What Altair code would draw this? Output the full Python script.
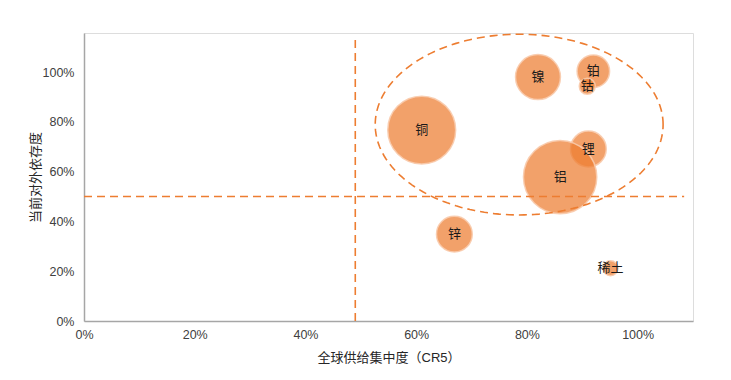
import altair as alt
import pandas as pd

# data
metals = ["铜", "镍", "铂", "钴", "锂", "铝", "锌", "稀土"]
concentration = [0.61, 0.82, 0.92, 0.909, 0.911, 0.86, 0.669, 0.951]   # CR5
dependence = [0.767, 0.98, 1.003, 0.943, 0.691, 0.578, 0.349, 0.212]
bubble_size = [14.4, 6.3, 3.3, 0.8, 4.0, 16.8, 4.0, 0.7]

x_ticks = [0, 0.2, 0.4, 0.6, 0.8, 1.0]
y_ticks = [0, 0.2, 0.4, 0.6, 0.8, 1.0]

v_line_x = [0.49]
v_line_top = [1.13]
h_line_y = [0.50]
h_line_right = [1.084]

# ellipse annotation parameters (data units)
ell_cx, ell_cy, ell_rx, ell_ry = 0.786, 0.789, 0.26, 0.363

FONT = "Arial, 'Liberation Sans', 'Noto Sans CJK SC', sans-serif"
ORANGE = "#ED7D31"
AREA_PER_UNIT = 320  # pixel area per bubble-size unit

df = pd.DataFrame({"metal": metals, "x": concentration, "y": dependence, "s": bubble_size})

xscale = alt.Scale(domain=[0, 1.1], nice=False, zero=True)
yscale = alt.Scale(domain=[0, 1.157], nice=False, zero=True)

xaxis = alt.Axis(values=x_ticks, format=".0%", title="全球供给集中度（CR5）", grid=False,
                 ticks=False, domainColor="#A6A6A6", domainWidth=1.5, labelFontSize=12.5,
                 labelColor="#404040", labelPadding=7, labelFlush=False,
                 titleFontSize=13, titleFontWeight="normal",
                 titleColor="#262626", titlePadding=11, labelFont=FONT, titleFont=FONT)
yaxis = alt.Axis(values=y_ticks, format=".0%", title="当前对外依存度", grid=False,
                 ticks=False, domainColor="#A6A6A6", domainWidth=1.5, labelFontSize=12.5,
                 labelColor="#404040", labelPadding=10, labelFlush=False,
                 titleFontSize=13, titleFontWeight="normal",
                 titleColor="#262626", titlePadding=0, labelFont=FONT, titleFont=FONT)

bubbles = alt.Chart(df).transform_calculate(
    area=f"datum.s * {AREA_PER_UNIT}"
).mark_point(
    shape="circle", filled=True, fill=ORANGE, fillOpacity=0.72,
    stroke="#F8CBAD", strokeWidth=1.5, strokeOpacity=0.9, opacity=1
).encode(
    x=alt.X("x:Q", scale=xscale, axis=xaxis),
    y=alt.Y("y:Q", scale=yscale, axis=yaxis),
    size=alt.Size("area:Q", scale=None, legend=None),
)

labels = alt.Chart(df).mark_text(fontSize=13, color="#1a1a1a", font=FONT).encode(
    x=alt.X("x:Q", scale=xscale), y=alt.Y("y:Q", scale=yscale), text="metal:N"
)

vdf = pd.DataFrame({"x": v_line_x, "y": [0], "y2": v_line_top})
vline = alt.Chart(vdf).mark_rule(color=ORANGE, strokeDash=[8, 5], strokeWidth=1.6).encode(
    x=alt.X("x:Q", scale=xscale), y=alt.Y("y:Q", scale=yscale), y2="y2:Q"
)
hdf = pd.DataFrame({"y": h_line_y, "x": [0], "x2": h_line_right})
hline = alt.Chart(hdf).mark_rule(color=ORANGE, strokeDash=[8, 5], strokeWidth=1.6).encode(
    y=alt.Y("y:Q", scale=yscale), x=alt.X("x:Q", scale=xscale), x2="x2:Q"
)

ellipse = alt.Chart(alt.sequence(0, 362, 2, as_="t")).transform_calculate(
    ex=f"{ell_cx} + {ell_rx} * cos(datum.t * PI / 180)",
    ey=f"{ell_cy} + {ell_ry} * sin(datum.t * PI / 180)",
).mark_line(color=ORANGE, strokeDash=[8, 5], strokeWidth=1.6).encode(
    x=alt.X("ex:Q", scale=xscale), y=alt.Y("ey:Q", scale=yscale), order="t:Q"
)

chart = alt.layer(bubbles, vline, hline, ellipse, labels).properties(
    width=609, height=288,
    autosize=alt.AutoSizeParams(type="none"),
    padding={"left": 76, "top": 25, "right": 30, "bottom": 50},
).configure_view(stroke=None).configure(font=FONT)

chart.save("out.html", embed_options={"renderer": "svg", "actions": False})
